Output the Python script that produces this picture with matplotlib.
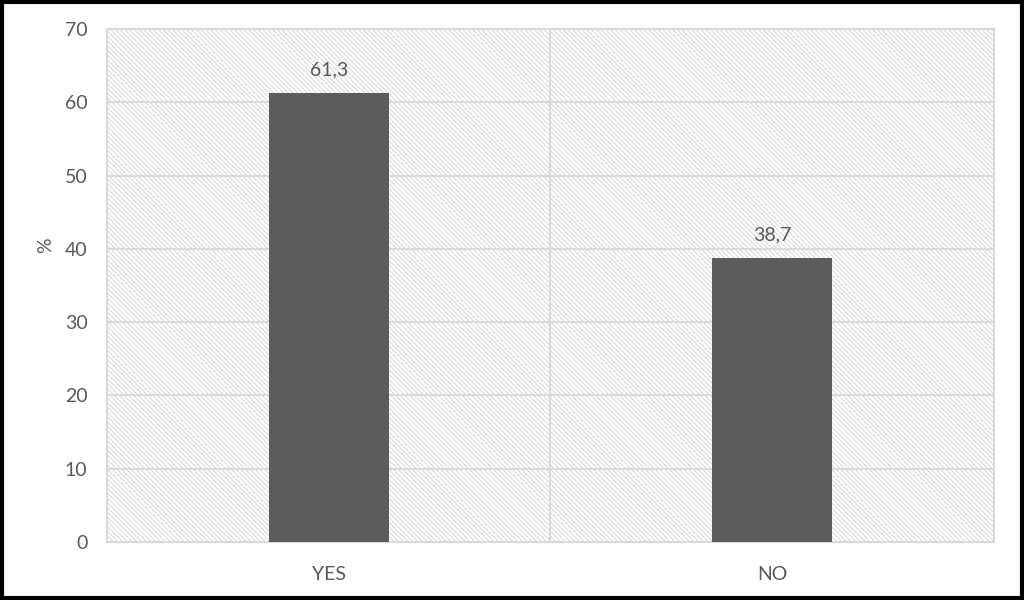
import matplotlib
matplotlib.use("Agg")
import matplotlib.pyplot as plt
from matplotlib.patches import Rectangle

categories = ["YES", "NO"]
values = [61.3, 38.7]
value_labels = ["61,3", "38,7"]
y_ticks = [0, 10, 20, 30, 40, 50, 60, 70]

plt.rcParams['font.family'] = ['Lato', 'DejaVu Sans']
plt.rcParams['hatch.linewidth'] = 0.55
text_col = "#595959"
grid_col = "#d9d9d9"

fig = plt.figure(figsize=(10.24, 6), dpi=100)
ax = fig.add_axes([0.1045, 0.0967, 0.866, 0.855])

# hatched plot area background
ax.patch.set_facecolor("white")
bg = Rectangle((0, 0), 1, 1, transform=ax.transAxes, facecolor="white",
               edgecolor="#cdcdcd", hatch="\\" * 7, linewidth=0, zorder=0)
ax.add_patch(bg)

x = list(range(len(categories)))
bars = ax.bar(x, values, width=0.27, color="#5c5c5c", zorder=3)
for b, lab in zip(bars, value_labels):
    ax.text(b.get_x() + b.get_width() / 2, b.get_height() + 2.0, lab,
            ha="center", va="bottom", fontsize=14, color=text_col)

ax.set_xlim(-0.5, len(categories) - 0.5)
ax.set_ylim(0, 70)
ax.set_yticks(y_ticks)
ax.set_xticks(x)
ax.set_xticklabels(categories)
ax.tick_params(axis="both", length=0, labelsize=14, labelcolor=text_col)
ax.tick_params(axis="x", pad=17)
ax.tick_params(axis="y", pad=14)
for yv in y_ticks[1:]:
    ax.axhline(yv, color=grid_col, linewidth=1.5, zorder=1)
for xv in range(1, len(categories)):
    ax.axvline(xv - 0.5, color=grid_col, linewidth=1.5, zorder=1)
for s in ax.spines.values():
    s.set_color(grid_col)
    s.set_linewidth(1.5)
ax.set_ylabel("%", fontsize=14, color=text_col)
ax.yaxis.set_label_coords(-0.06, 0.579)

# black frame around the whole picture
fig.patches.append(Rectangle((0.002, 0.003), 0.996, 0.994, transform=fig.transFigure,
                             fill=False, edgecolor="black", linewidth=3))

fig.savefig("out.png", dpi=100)
